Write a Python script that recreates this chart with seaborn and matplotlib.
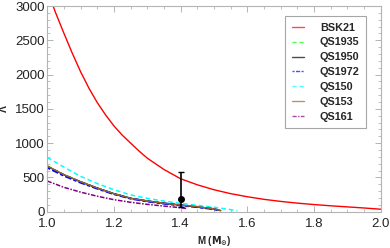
import numpy as np
import pandas as pd
import seaborn as sns
import matplotlib.pyplot as plt
from matplotlib.ticker import MultipleLocator

# tidal deformability vs mass
m_bsk = [1.000, 1.025, 1.050, 1.075, 1.100, 1.125, 1.150, 1.175, 1.200, 1.225,
         1.250, 1.275, 1.300, 1.35, 1.40, 1.45, 1.50, 1.55, 1.60, 1.65, 1.70,
         1.75, 1.80, 1.85, 1.90, 1.95, 2.00]
lam_bsk21 = [3230, 2900, 2600, 2310, 2040, 1800, 1590, 1410, 1250, 1115,
             1000, 885, 780, 615, 480, 392, 320, 263, 218, 180, 150,
             125, 104, 86, 70, 54, 36]

m_qs = [1.00, 1.05, 1.10, 1.15, 1.20, 1.25, 1.30, 1.35, 1.40, 1.45, 1.50]
lam_qs1935 = [668, 542, 438, 347, 263, 197, 155, 123, 96, 71, 41]
lam_qs1950 = [663, 538, 436, 344, 261, 195, 154, 122, 96, 71, 40]
lam_qs1972 = [645, 525, 425, 337, 257, 192, 151, 119, 93, 68, 38]
lam_qs150 = [790, 650, 515, 410, 320, 245, 194, 155, 121, 92, 65]
lam_qs153 = [665, 540, 437, 345, 262, 196, 155, 123, 97, 72, 42]
lam_qs161 = [447, 355, 285, 225, 175, 137, 107, 82, 58]

# end points of the quark star branches
end_qs1935 = (1.52, 16)
end_qs1950 = (1.52, 15)
end_qs1972 = (1.51, 25)
end_qs150 = (1.57, 16)
end_qs153 = (1.52, 16)
end_qs161 = (1.42, 45)

# GW170817 constraint
gw_mass = 1.4
gw_lam = 190
gw_low = 70
gw_high = 580


def series(ms, lams, end=None):
    ms = list(ms)
    lams = list(lams)
    if end is not None:
        ms.append(end[0])
        lams.append(end[1])
    return pd.DataFrame({'M': ms, 'L': lams})


sns.set_style('ticks')
plt.rcParams['font.family'] = ['Liberation Sans', 'DejaVu Sans']
plt.rcParams['mathtext.fontset'] = 'dejavusans'

fig = plt.figure(figsize=(3.9, 2.48), dpi=100)
ax = fig.add_axes([0.1213, 0.1464, 0.8549, 0.8294])

curves = [
    ('BSK21', series(m_bsk, lam_bsk21), '#ff0000', '-', 1.0),
    ('QS1935', series(m_qs, lam_qs1935, end_qs1935), '#00ff00', (0, (3, 2)), 1.1),
    ('QS1950', series(m_qs, lam_qs1950, end_qs1950), '#000000', '-', 1.0),
    ('QS1972', series(m_qs, lam_qs1972, end_qs1972), '#0000ff', (0, (1.5, 1, 3, 1)), 1.6),
    ('QS150', series(m_qs, lam_qs150, end_qs150), '#00ffff', (0, (3, 2)), 1.1),
    ('QS153', series(m_qs, lam_qs153, end_qs153), '#996633', '-', 1.0),
    ('QS161', series(m_qs[:9], lam_qs161, end_qs161), '#800080', (0, (3, 1, 1, 1)), 1.1),
]
for name, df, col, ls, lw in curves:
    sns.lineplot(data=df, x='M', y='L', ax=ax, color=col, linestyle=ls,
                 linewidth=lw, label=name, sort=False)

ax.errorbar([gw_mass], [gw_lam], yerr=[[gw_lam - gw_low], [gw_high - gw_lam]],
            fmt='o', color='black', ms=4, lw=1.2, capsize=2, capthick=1.0)

ax.set_xlim(1.0, 2.0)
ax.set_ylim(0, 3000)
ax.xaxis.set_major_locator(MultipleLocator(0.2))
ax.xaxis.set_minor_locator(MultipleLocator(0.05))
ax.yaxis.set_major_locator(MultipleLocator(500))
ax.yaxis.set_minor_locator(MultipleLocator(100))
ax.xaxis.set_major_formatter(plt.FuncFormatter(lambda v, p: '{:.1f}'.format(v)))

grey = '#b4b4b4'
for sp in ax.spines.values():
    sp.set_color(grey)
    sp.set_linewidth(0.8)
ax.tick_params(which='both', direction='in', top=True, right=True,
               color=grey, labelsize=9.5, labelcolor='#222222')
ax.tick_params(axis='x', pad=4.5)
ax.tick_params(axis='y', pad=2)
ax.tick_params(which='major', length=4, width=0.7)
ax.tick_params(which='minor', length=2, width=0.6)

ax.set_xlabel(r'M ($\mathbf{M_{\odot}}$)', fontsize=7, fontweight='bold', labelpad=3)
ax.set_ylabel('Λ', fontsize=7.5, fontweight='bold')
ax.yaxis.set_label_coords(-0.115, 0.5)

leg = ax.legend(loc='upper right', bbox_to_anchor=(0.956, 0.951),
                prop={'weight': 'bold', 'size': 7.8}, frameon=True, fancybox=False,
                edgecolor='#909090', handlelength=1.1, handletextpad=1.5,
                labelspacing=0.45, borderpad=0.6, borderaxespad=0)
leg.get_frame().set_linewidth(0.8)
for h in leg.get_lines():
    h.set_linewidth(1.0)
    h.set_alpha(0.7)

fig.savefig('out.png', dpi=100)
